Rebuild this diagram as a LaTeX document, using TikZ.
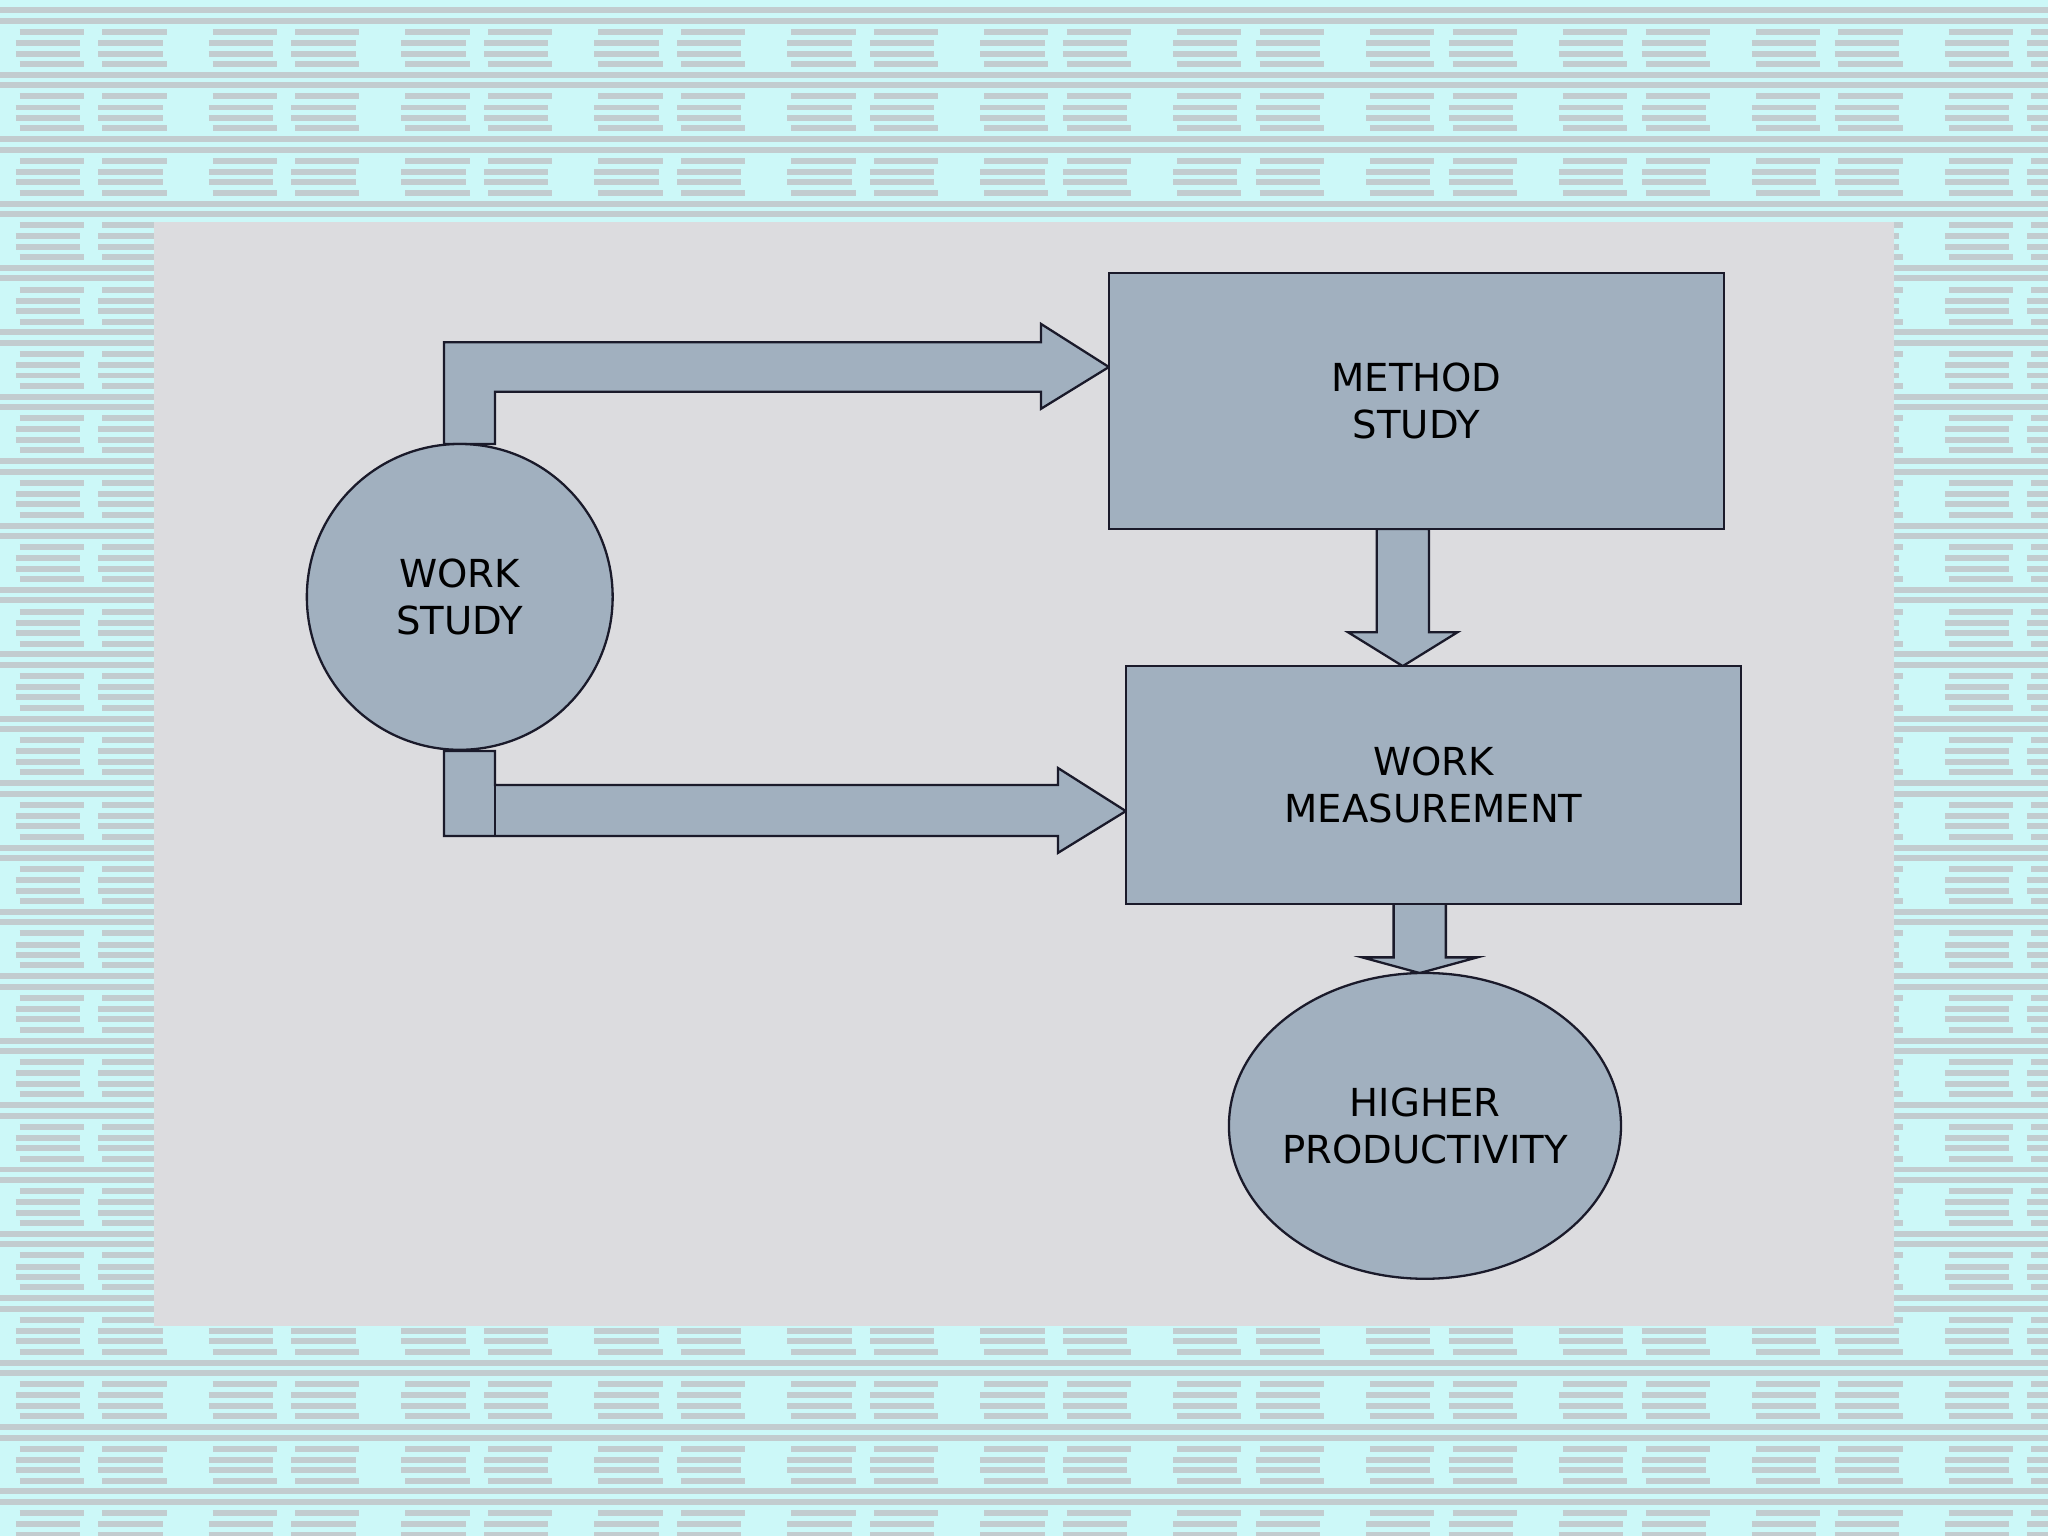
\documentclass[tikz,border=0pt]{standalone}
\usepackage{fontspec}
\setmainfont{DejaVu Sans}
\usetikzlibrary{shapes.geometric}
\definecolor{bgc}{HTML}{CCF8F8}
\definecolor{stripe}{HTML}{C2CCCF}
\definecolor{panel}{HTML}{DCDCDF}
\definecolor{shape}{HTML}{A1B0BF}
\definecolor{edge}{HTML}{1A1A2A}
\tikzset{
  shp/.style={fill=shape,draw=edge,line width=0.5pt},
  lbl/.style={font=\fontsize{8.4pt}{10.4pt}\selectfont,text=black,align=center},
  stripe solid/.style={stripe,line width=1.3pt},
  stripe dash/.style={stripe,line width=1.3pt,dash pattern=on 14pt off 4pt on 14pt off 10pt},
}
\begin{document}
\begin{tikzpicture}[x=0.01cm,y=-0.01cm]
\useasboundingbox (0,0) rectangle (1568,1176);
\fill[bgc] (0,0) rectangle (1568,1176);
\foreach \k in {0,...,24}{
  \pgfmathsetmacro\yy{\k*49.3}
  \draw[stripe solid] (0,\yy+8) -- (1568,\yy+8);
  \draw[stripe solid] (0,\yy+16) -- (1568,\yy+16);
  \draw[stripe dash] (15,\yy+24.5) -- (1568,\yy+24.5);
  \draw[stripe dash] (12,\yy+33) -- (1568,\yy+33);
  \draw[stripe dash] (12,\yy+41) -- (1568,\yy+41);
  \draw[stripe dash] (15,\yy+49) -- (1568,\yy+49);
}
\fill[panel] (118,170) rectangle (1450,1015);
% arrows
\draw[shp] (340,340) -- (340,262) -- (797,262) -- (797,248) -- (849,281) -- (797,313) -- (797,300) -- (379,300) -- (379,340) -- cycle;
\draw[shp] (340,575) -- (340,640) -- (810,640) -- (810,653) -- (862,621) -- (810,588) -- (810,601) -- (379,601) -- (379,575) -- cycle;
\draw[edge,line width=0.5pt] (379,601) -- (379,640);
\draw[shp] (1054,405) -- (1054,484) -- (1032,484) -- (1074,510) -- (1116,484) -- (1094,484) -- (1094,405) -- cycle;
\draw[shp] (1067,692) -- (1067,733) -- (1043,733) -- (1087,745) -- (1131,733) -- (1107,733) -- (1107,692) -- cycle;
% nodes
\node[shp,circle,minimum size=2.34cm,inner sep=0pt] (ws) at (352,457) {};
\node[lbl] at (ws) {WORK\\STUDY};
\node[shp,rectangle,minimum width=4.71cm,minimum height=1.96cm] (ms) at (1084.5,307) {};
\node[lbl] at (ms) {METHOD\\STUDY};
\node[shp,rectangle,minimum width=4.71cm,minimum height=1.82cm] (wm) at (1097.5,601) {};
\node[lbl] at (wm) {WORK\\MEASUREMENT};
\node[shp,ellipse,minimum width=3.0cm,minimum height=2.34cm,inner sep=0pt] (hp) at (1091,862) {};
\node[lbl] at (hp) {HIGHER\\PRODUCTIVITY};
\end{tikzpicture}
\end{document}
